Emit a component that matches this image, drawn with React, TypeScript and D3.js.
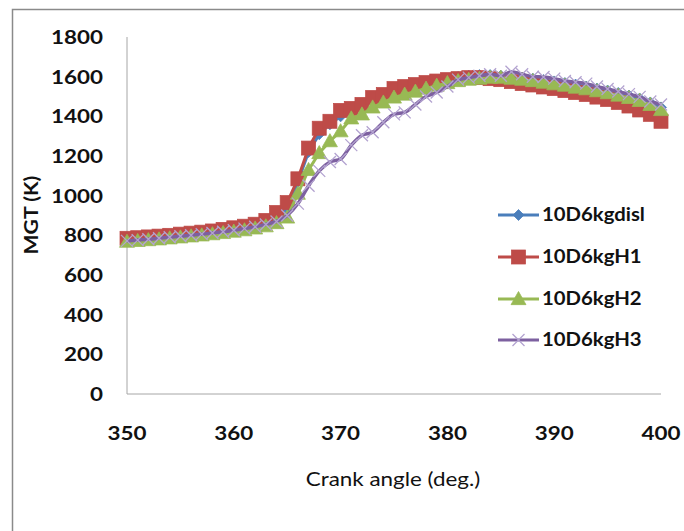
import React from "react";
import * as d3 from "d3";

const angles = [350,351,352,353,354,355,356,357,358,359,360,361,362,363,364,365,366,367,368,369,370,371,372,373,374,375,376,377,378,379,380,381,382,383,384,385,386,387,388,389,390,391,392,393,394,395,396,397,398,399,400];

const disl = [775,779,783,787,791,796,801,806,812,818,825,832,841,853,875,930,1070,1220,1310,1360,1400,1425,1450,1475,1495,1515,1530,1545,1560,1575,1588,1598,1605,1608,1608,1605,1600,1595,1590,1583,1576,1568,1560,1550,1540,1530,1518,1505,1490,1470,1445];
const h1 = [785,788,792,796,800,806,811,816,822,830,838,846,856,875,915,965,1085,1240,1340,1375,1430,1440,1460,1495,1510,1540,1550,1560,1570,1578,1585,1590,1595,1595,1590,1585,1575,1565,1558,1548,1540,1530,1520,1510,1497,1485,1470,1452,1432,1410,1375];
const h2 = [768,772,776,780,785,790,795,800,806,812,819,826,835,846,862,890,1010,1130,1215,1275,1325,1390,1410,1445,1470,1495,1510,1525,1540,1555,1568,1578,1585,1590,1595,1595,1590,1585,1578,1570,1562,1555,1545,1537,1527,1517,1505,1493,1478,1458,1432];
const h3 = [772,776,780,785,790,795,800,806,812,818,826,834,843,855,870,900,960,1050,1125,1170,1185,1255,1305,1320,1370,1410,1420,1460,1500,1520,1550,1585,1595,1605,1612,1605,1625,1612,1600,1598,1590,1578,1572,1565,1550,1538,1525,1512,1498,1475,1460];

const seriesNames = ["10D6kgdisl", "10D6kgH1", "10D6kgH2", "10D6kgH3"];
const seriesColors = ["#4a7ebb", "#be4b48", "#98b954", "#7d60a0"];
const seriesMarkers = ["diamond", "square", "triangle", "x"];
const seriesValues = [disl, h1, h2, h3];

const yTicks = [0, 200, 400, 600, 800, 1000, 1200, 1400, 1600, 1800];
const xTicks = [350, 360, 370, 380, 390, 400];

const FONT = "Lato, 'Open Sans', sans-serif";

function Marker({ kind, x, y, color }: { kind: string; x: number; y: number; color: string }) {
  if (kind === "diamond") {
    const s = 5.5;
    return <path d={`M${x},${y - s}L${x + s},${y}L${x},${y + s}L${x - s},${y}Z`} fill={color} stroke={color} strokeWidth={0.75} />;
  }
  if (kind === "square") {
    const s = 7;
    return <rect x={x - s} y={y - s} width={2 * s} height={2 * s} fill={color} stroke={color} strokeWidth={0.75} />;
  }
  if (kind === "triangle") {
    const s = 7.5;
    return <path d={`M${x},${y - s}L${x + s},${y + s * 0.75}L${x - s},${y + s * 0.75}Z`} fill={color} stroke={color} strokeWidth={0.75} />;
  }
  const s = 6;
  return (
    <path d={`M${x - s},${y - s}L${x + s},${y + s}M${x - s},${y + s}L${x + s},${y - s}`} stroke="#b3a3d0" strokeWidth={1.3} fill="none" />
  );
}

function SText({ x, y, sx, anchor, size, weight, children, rotate }: any) {
  return (
    <g transform={`translate(${x},${y})${rotate ? ` rotate(${rotate})` : ""} scale(${sx},1)`}>
      <text x={0} y={0} dy="0.36em" textAnchor={anchor} fontSize={size} fontWeight={weight} fill="#111">
        {children}
      </text>
    </g>
  );
}

export default function App() {
  const W = 684, H = 531;
  const x = d3.scaleLinear().domain([350, 400]).range([127, 661]);
  const y = d3.scaleLinear().domain([0, 1800]).range([394, 37]);

  const lines = seriesValues.map((vals, i) => {
    const gen = d3
      .line<number>()
      .x((_, j) => x(angles[j]))
      .y((v) => y(v))
      .curve(i === 3 ? d3.curveMonotoneX : d3.curveLinear);
    return gen(vals) || "";
  });

  const legendY = [215, 257, 299, 340];

  return (
    <svg width={W} height={H} style={{ position: "absolute", left: 0, top: 0, background: "#fff" }} fontFamily={FONT}>
      <rect x={0} y={0} width={W} height={H} fill="#fff" />
      <path d={`M12.5,${H}L12.5,9.5L${W},9.5`} stroke="#8a8a8a" strokeWidth={1.5} fill="none" />

      <line x1={x(350)} x2={x(350)} y1={y(1800)} y2={y(0)} stroke="#a6a6a6" strokeWidth={1} />
      <line x1={x(350)} x2={x(400)} y1={y(0)} y2={y(0)} stroke="#a6a6a6" strokeWidth={1} />

      {yTicks.map((t) => (
        <SText key={"yl" + t} x={103} y={y(t)} sx={1.18} anchor="end" size={19} weight={700}>
          {t}
        </SText>
      ))}
      {xTicks.map((t) => (
        <SText key={"xl" + t} x={x(t)} y={433} sx={1.18} anchor="middle" size={19} weight={700}>
          {t}
        </SText>
      ))}

      <SText x={32} y={215} rotate={-90} sx={1.18} anchor="middle" size={18} weight={700}>
        MGT (K)
      </SText>
      <SText x={393} y={479} sx={1.15} anchor="middle" size={19.5} weight={400}>
        Crank angle (deg.)
      </SText>

      {seriesValues.map((vals, i) => (
        <g key={"s" + i}>
          <path d={lines[i]} fill="none" stroke={seriesColors[i]} strokeWidth={i === 3 ? 3.5 : 3} strokeLinejoin="round" />
          {vals.map((v, j) => (
            <Marker key={j} kind={seriesMarkers[i]} x={x(angles[j])} y={y(v)} color={seriesColors[i]} />
          ))}
        </g>
      ))}

      {seriesNames.map((name, i) => (
        <g key={"lg" + i}>
          <line x1={498} x2={539} y1={legendY[i]} y2={legendY[i]} stroke={seriesColors[i]} strokeWidth={3} />
          <Marker kind={seriesMarkers[i]} x={518.5} y={legendY[i]} color={seriesColors[i]} />
          <SText x={542} y={legendY[i]} sx={1.13} anchor="start" size={18} weight={700}>
            {name}
          </SText>
        </g>
      ))}
    </svg>
  );
}
